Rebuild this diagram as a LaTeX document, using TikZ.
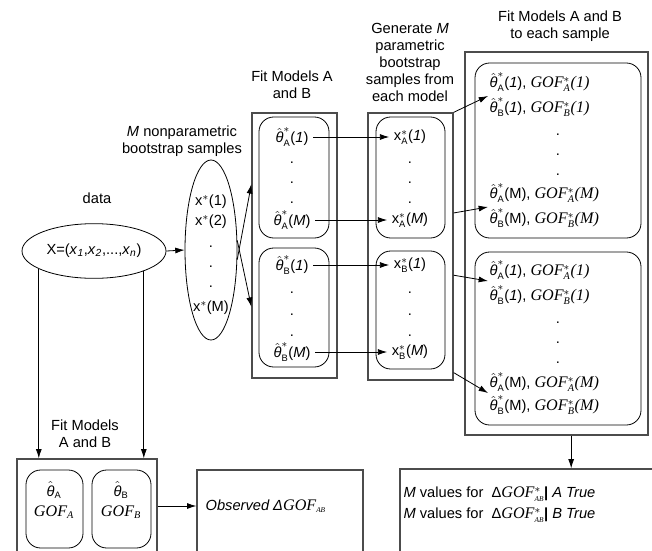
\documentclass[tikz,border=0pt]{standalone}
\usepackage{fontspec}
\setmainfont{Liberation Sans}
\newfontfamily\goffont{Liberation Serif}[Scale=1.1]
\usepackage{tikz}
\usetikzlibrary{positioning, calc, fit, shapes.geometric, arrows.meta}

\newcommand{\thetahat}{\ensuremath{\hat{\hbox{\itshape θ}}}}
\newcommand{\thetast}[1]{\ensuremath{\hat{\hbox{\itshape θ}}^{*}_{\hbox{\scriptsize #1}}}}
\newcommand{\xst}[1]{x\ensuremath{^{*}_{\hbox{\scriptsize #1}}}}
\newcommand{\gofst}[2]{{\goffont\itshape GOF}\ensuremath{^{*}_{\hbox{\goffont\itshape\scriptsize #1}}}{\goffont\itshape(#2)}}

\begin{document}
\begin{tikzpicture}[x=0.75pt, y=-0.75pt, font=\fontsize{11}{13}\selectfont,
  frame/.style={draw=black!70, line width=1pt, inner sep=0pt},
  rbox/.style={draw, rounded corners=11pt, line width=0.6pt, inner sep=0pt},
  lbl/.style={align=center, inner sep=0pt},
  row/.style={anchor=west, inner sep=1pt},
  dot/.style={inner sep=0pt},
  arr/.style={-{Latex[length=7pt, width=4.5pt]}, line width=0.6pt}]
\clip (0,0) rectangle (652,550);

% labels
\node (ldata) [lbl] at (97,198) {data};
\node (lboot) [lbl] at (182,141) {\textit{M} nonparametric\\bootstrap samples};
\node (lfitm) [lbl] at (292,85) {Fit Models A\\and B};
\node (lgen) [lbl, font=\fontsize{11}{12.75}\selectfont] at (410,62) {Generate \textit{M}\\parametric\\bootstrap\\samples from\\each model};
\node (lright) [lbl] at (560,26) {Fit Models A and B\\to each sample};
\node (lbot) [lbl] at (85,434) {Fit Models\\A and B};

% data and bootstrap samples
\node (data) [ellipse, draw, line width=0.6pt, minimum width=108pt, minimum height=41pt] at (94,251) {};
\node (xdata) at (data) {X=(\textit{x}\textsubscript{\textit{1}},\textit{x}\textsubscript{\textit{2}},...,\textit{x}\textsubscript{\textit{n}})};
\node (boot) [ellipse, draw, line width=0.6pt, minimum width=39pt, minimum height=135pt] at (211,250) {};
\node (bs1) at (211,202) {x\ensuremath{^{*}}(1)};
\node (bs2) at (211,222) {x\ensuremath{^{*}}(2)};
\foreach \y in {247,267,287} \node (bd\y) [dot] at (211,\y) {.};
\node (bsM) at (211,308) {x\ensuremath{^{*}}(M)};

% fit models A and B
\node (fitbox) [frame, fit={(252,113) (337,378)}] {};
\node (fitA) [rbox, fit={(259,117) (329,238)}] {};
\node (fitB) [rbox, fit={(259,248) (329,367)}] {};
\node (tA1) at (292,137) {\thetast{A}(\textit{1})};
\node (tAM) at (292,220) {\thetast{A}(\textit{M})};
\node (tB1) at (292,265) {\thetast{B}(\textit{1})};
\node (tBM) at (292,352) {\thetast{B}(\textit{M})};
\foreach \y in {163,183,203,293,315,336} \node (td\y) [dot] at (292,\y) {.};

% parametric samples
\node (genbox) [frame, fit={(368,113) (453,380)}] {};
\node (genA) [rbox, fit={(376,117) (445,238)}] {};
\node (genB) [rbox, fit={(376,251) (445,369)}] {};
\node (xA1) at (410,137) {\xst{A}(\textit{1})};
\node (xAM) at (410,220) {\xst{A}(\textit{M})};
\node (xB1) at (410,265) {\xst{B}(\textit{1})};
\node (xBM) at (410,352) {\xst{B}(\textit{M})};
\foreach \y in {163,183,203,293,315,336} \node (xd\y) [dot] at (410,\y) {.};

% refits
\node (rbox) [frame, fit={(465,52) (648,435)}] {};
\node (rfitA) [rbox, fit={(475,63) (641,238)}] {};
\node (rfitB) [rbox, fit={(475,252) (641,425)}] {};
\node (rA1) [row] at (488,82) {\thetast{A}(\textit{1}), \gofst{A}{1}};
\node (rA2) [row] at (488,107) {\thetast{B}(\textit{1}), \gofst{B}{1}};
\node (rA3) [row] at (488,193) {\thetast{A}(M), \gofst{A}{M}};
\node (rA4) [row] at (488,218) {\thetast{B}(M), \gofst{B}{M}};
\node (rB1) [row] at (488,270) {\thetast{A}(\textit{1}), \gofst{A}{1}};
\node (rB2) [row] at (488,295) {\thetast{B}(\textit{1}), \gofst{B}{1}};
\node (rB3) [row] at (488,382) {\thetast{A}(M), \gofst{A}{M}};
\node (rB4) [row] at (488,405) {\thetast{B}(M), \gofst{B}{M}};
\foreach \y in {135,155,175,323,343,363} \node (rd\y) [dot] at (558,\y) {.};

% observed fit
\node (lfit) [frame, fit={(17,459) (157,560)}] {};
\node (obsA) [rbox, fit={(26,470) (83,548)}] {};
\node (obsB) [rbox, fit={(92,470) (151,548)}] {};
\node (thA) at (54,490) {\thetahat\ensuremath{_{\hbox{\scriptsize A}}}};
\node (gofA) at (54,512) {\goffont\itshape GOF\ensuremath{_{\hbox{\scriptsize A}}}};
\node (thB) at (121,490) {\thetahat\ensuremath{_{\hbox{\scriptsize B}}}};
\node (gofB) at (121,512) {\goffont\itshape GOF\ensuremath{_{\hbox{\scriptsize B}}}};

\node (obsbox) [frame, fit={(197,470) (363,560)}] {};
\node (oth) [row] at (204,506) {\textit{Observed Δ}{\goffont\itshape GOF\ensuremath{_{\hbox{\tiny AB}}}}};

\node (mbox) [frame, fit={(400,469) (660,560)}] {};
\node (mA) [row] at (402,494) {\textit{M} values for \ Δ{\goffont\itshape GOF}\ensuremath{^{*}_{\hbox{\goffont\itshape\tiny AB}}}\textbf{|} \textit{A True}};
\node (mB) [row] at (402,515) {\textit{M} values for \ Δ{\goffont\itshape GOF}\ensuremath{^{*}_{\hbox{\goffont\itshape\tiny AB}}}\textbf{|} \textit{B True}};

% connections
\draw[arr] (data.east) -- (boot.west);
\draw[arr] (boot.-20) -- ($(fitbox.north west)!0.27!(fitbox.south west)$);
\draw[arr] (boot.20) -- ($(fitbox.north west)!0.73!(fitbox.south west)$);
\draw[arr] (tA1.east) -- (xA1.west);
\draw[arr] (tAM.east) -- (xAM.west);
\draw[arr] (tB1.east) -- (xB1.west);
\draw[arr] (tBM.east) -- (xBM.west);
\draw[arr] (genbox.north east) -- (rA2.north west);
\draw[arr] ($(genbox.north east)!0.375!(genbox.south east)$) -- (rA4.north west);
\draw[arr] ($(genbox.north east)!0.607!(genbox.south east)$) -- (rB1.south west);
\draw[arr] ($(genbox.north east)!0.97!(genbox.south east)$) -- (rB3.south west);
\draw[arr] ([xshift=11pt]rbox.south) -- ([xshift=11pt]rbox.south |- mbox.north);
\draw[arr] (data.198) -- (data.198 |- lfit.north);
\draw[arr] (data.338) -- (data.338 |- lfit.north);
\draw[arr] (oth -| lfit.east) -- (oth -| obsbox.west);

\end{tikzpicture}
\end{document}
